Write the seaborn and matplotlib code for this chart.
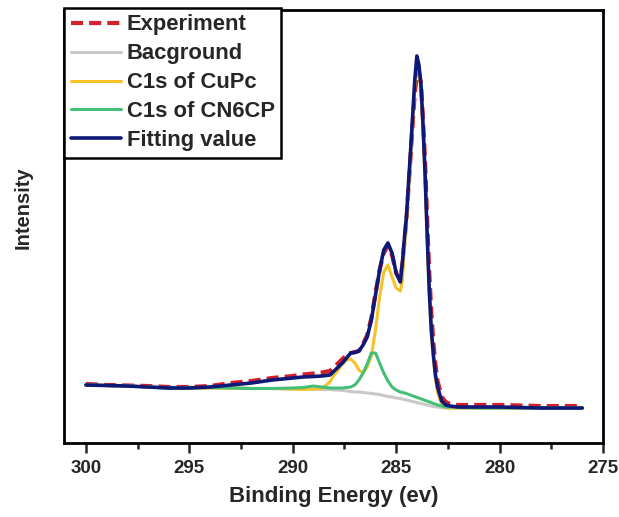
import numpy as np
import pandas as pd
import matplotlib
matplotlib.use("Agg")
import matplotlib.pyplot as plt
import seaborn as sns

# ----------------------------------------------------------
# DATA (intensity in arbitrary units)
# ----------------------------------------------------------
energy = [
    300, 299, 298, 297, 296, 295, 294, 293, 292, 291, 290,
    289.5, 289, 288.6, 288.2,
    288.0, 287.8, 287.6, 287.4, 287.2, 287.0, 286.8, 286.6, 286.4, 286.2,
    286.0, 285.8, 285.6, 285.4, 285.2, 285.0, 284.8,
    284.7, 284.6, 284.5, 284.4, 284.3, 284.2, 284.1, 284.0, 283.9,
    283.8, 283.7, 283.6, 283.5, 283.4, 283.3, 283.2, 283.1, 283.0,
    282.8, 282.6, 282.4, 282.0,
    281, 280, 279, 278, 277, 276,
]

experiment = [
    59, 58, 57.5, 57, 56, 56, 57, 60, 62, 65, 67,
    68.5, 69.5, 70.5, 72,
    76, 80, 84, 88, 90, 91, 92, 99, 108, 125,
    150, 173, 190, 197, 188, 170, 163,
    178, 202, 224, 256, 288, 320, 350, 368, 370,
    360, 322, 280, 222, 170, 130, 100, 78, 62,
    46, 41, 39, 38,
    38, 38, 37.5, 37, 37, 37,
]

background = [
    58, 57.5, 57, 56, 55, 55, 55, 55, 54.5, 54.5, 54,
    54, 54, 53.5, 53.5,
    53, 53, 52.5, 52, 51.5, 51, 51, 50.5, 50, 49.5,
    49, 48.5, 47.5, 46.5, 46, 45, 44.5,
    44, 43.5, 43, 42.5, 42, 41.5, 41, 40.5, 40,
    39.5, 39, 38.5, 38, 37.5, 37, 36.5, 36.2, 36,
    35.5, 35, 35, 35,
    35, 35, 35, 35, 35, 35,
]

cupc = [
    58, 57.5, 57, 56, 55, 55, 55, 55, 54.5, 54.5, 54,
    53.5, 54, 54.5, 61,
    68, 73, 79, 83, 84, 80, 73, 70, 76, 87,
    113, 146, 171, 178, 166, 155, 152,
    162, 196, 220, 255, 287, 322, 357, 381, 372,
    353, 313, 263, 203, 149, 110, 84, 64, 51,
    38, 35.5, 35, 35,
    35, 35, 35, 35, 35, 35,
]

cn6cp = [
    58, 57.5, 57, 56, 55, 55, 55.5, 55, 54.5, 54.5, 55,
    55.5, 57, 56, 55,
    55, 55, 55, 55.5, 56, 58, 63, 70, 79, 90,
    90, 80, 70, 62, 56, 53, 51,
    50.5, 50, 49.5, 48.5, 48, 47, 46.5, 45.5, 45,
    44, 43.5, 42.5, 42, 41, 40.5, 39.5, 39, 38,
    37, 36, 36, 35.5,
    35, 35, 35, 35, 35, 35,
]

fitting = [
    58, 57.5, 57, 56, 55, 55, 56, 58, 60, 63, 65,
    66, 66.5, 67, 68,
    72, 76, 80, 85, 90, 90.5, 92, 98, 106, 123,
    148, 173, 193, 200, 190, 170, 161,
    180, 205, 227, 261, 293, 328, 363, 387, 378,
    358, 318, 268, 208, 153, 113, 88, 68, 56,
    42, 38, 37, 36,
    36, 36, 35.5, 35, 35, 35,
]

xticks = [300, 295, 290, 285, 280, 275]

# ----------------------------------------------------------
# STYLE
# ----------------------------------------------------------
sns.set_style("ticks")
plt.rcParams["font.family"] = ["Liberation Sans", "DejaVu Sans"]
plt.rcParams["font.weight"] = "bold"

fig = plt.figure(figsize=(6.19, 5.17), dpi=100)
ax = fig.add_axes([64 / 619, 1 - 443 / 517, 539 / 619, 433 / 517])

series = [
    ("Experiment", experiment, "#D4202A", 3.0),
    ("Bacground", background, "#C8C8C8", 2.2),
    ("C1s of CuPc", cupc, "#F6C227", 2.2),
    ("C1s of CN6CP", cn6cp, "#45BE78", 2.2),
    ("Fitting value", fitting, "#0E1877", 2.6),
]

for name, vals, col, lw in series:
    sns.lineplot(x=energy, y=vals, ax=ax, color=col, linewidth=lw,
                 label=name, sort=False)
    if name == "Experiment":
        ax.lines[-1].set_dashes([2.9, 1.45])

# ----------------------------------------------------------
# AXES
# ----------------------------------------------------------
ax.set_xlim(301.06, 275)
ax.set_ylim(0, 433)
ax.set_xticks(xticks)
ax.set_xticks([297.5, 292.5, 287.5, 282.5, 277.5], minor=True)
ax.set_yticks([])
ax.tick_params(axis="x", which="major", direction="out", length=7,
               width=1.8, labelsize=13.5, pad=5)
ax.tick_params(axis="x", which="minor", direction="out", length=4,
               width=1.8)
for lab in ax.get_xticklabels():
    lab.set_fontweight("bold")
for sp in ax.spines.values():
    sp.set_linewidth(2.0)
    sp.set_color("black")

ax.set_xlabel("Binding Energy (ev)", fontsize=16, fontweight="bold",
              labelpad=7)
ax.set_ylabel("Intensity", fontsize=14.5, fontweight="bold")
ax.yaxis.set_label_coords(-0.058, 0.543)

leg = ax.legend(loc="upper left", bbox_to_anchor=(0.0, 1.005),
                frameon=True, fancybox=False, framealpha=1,
                edgecolor="black", prop={"weight": "bold", "size": 15.8},
                handlelength=2.3, handletextpad=0.25, labelspacing=0.36,
                borderpad=0.3, borderaxespad=0)
leg.get_frame().set_linewidth(1.8)

fig.savefig("out.png", dpi=100)
